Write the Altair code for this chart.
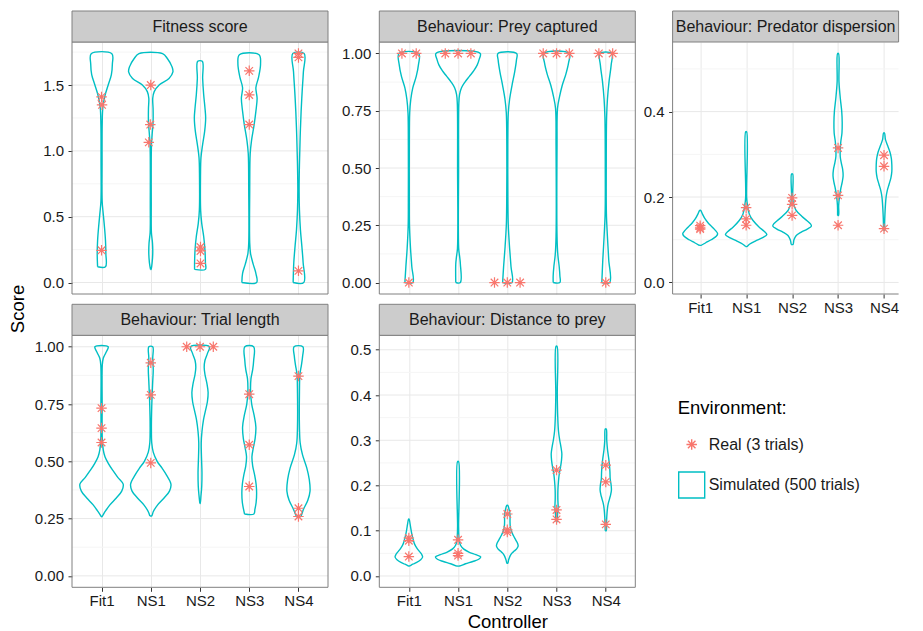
import json
import altair as alt
import pandas as pd

CONTROLLERS = ["Fit1", "NS1", "NS2", "NS3", "NS4"]
ENVIRONMENTS = ["Real (3 trials)", "Simulated (500 trials)"]
PANEL_TITLES = ["Fitness score", "Behaviour: Prey captured", "Behaviour: Predator dispersion",
                "Behaviour: Trial length", "Behaviour: Distance to prey"]

# Simulated-trial violin outlines: (score, half-width in category units)
FITNESS_VIOLINS = {
    "Fit1": [(1.738, .21), (1.66, .22), (1.58, .20), (1.50, .135), (1.42, .07), (1.33, .027), (1.2, .013),
             (0.9, .01), (0.62, .012), (0.52, .035), (0.42, .06), (0.32, .08), (0.22, .088), (0.12, .08)],
    "NS1": [(1.738, .24), (1.70, .34), (1.64, .43), (1.60, .45), (1.55, .37), (1.50, .17), (1.45, .07),
            (1.40, .04), (1.32, .047), (1.22, .047), (1.12, .027), (1.03, .013), (0.6, .01), (0.38, .013),
            (0.30, .035), (0.22, .04), (0.15, .027), (0.10, .005)],
    "NS2": [(1.68, .047), (1.55, .054), (1.43, .074), (1.33, .10), (1.25, .115), (1.15, .095), (1.05, .054),
            (0.95, .02), (0.8, .01), (0.55, .013), (0.45, .035), (0.35, .075), (0.25, .10), (0.15, .11),
            (0.10, .11)],
    "NS3": [(1.73, .20), (1.66, .23), (1.56, .19), (1.48, .135), (1.40, .16), (1.30, .135), (1.20, .10),
            (1.08, .047), (0.98, .02), (0.7, .01), (0.30, .01), (0.22, .027), (0.14, .08), (0.07, .135),
            (0.0, .15)],
    "NS4": [(1.74, .115), (1.60, .10), (1.45, .075), (1.30, .054), (1.10, .034), (0.90, .02), (0.70, .013),
            (0.55, .02), (0.40, .04), (0.28, .068), (0.15, .095), (0.0, .108)],
}
PREY_VIOLINS = {
    "Fit1": [(1.0, .20), (0.95, .195), (0.90, .15), (0.85, .08), (0.80, .04), (0.74, .017), (0.6, .01),
             (0.35, .01), (0.25, .013), (0.15, .034), (0.07, .06), (0.0, .08)],
    "NS1": [(1.0, .45), (0.975, .43), (0.95, .39), (0.925, .32), (0.90, .23), (0.875, .14), (0.85, .07),
            (0.82, .03), (0.78, .015), (0.5, .01), (0.15, .012), (0.11, .034), (0.08, .047), (0.0, .047)],
    "NS2": [(1.0, .19), (0.97, .185), (0.92, .15), (0.86, .095), (0.80, .047), (0.74, .02), (0.6, .01),
            (0.35, .012), (0.25, .02), (0.15, .047), (0.07, .075), (0.0, .095)],
    "NS3": [(1.0, .26), (0.96, .245), (0.91, .19), (0.86, .115), (0.81, .06), (0.76, .02), (0.6, .01),
            (0.2, .01), (0.12, .027), (0.07, .054), (0.03, .068), (0.0, .068)],
    "NS4": [(1.0, .12), (0.95, .11), (0.88, .068), (0.80, .034), (0.72, .017), (0.5, .01), (0.3, .013),
            (0.2, .034), (0.1, .06), (0.0, .08)],
}
PREDATOR_VIOLINS = {
    "Fit1": [(0.169, .01), (0.160, .05), (0.150, .10), (0.140, .17), (0.130, .26), (0.122, .33),
             (0.114, .38), (0.108, .35), (0.100, .24), (0.093, .12), (0.087, .02)],
    "NS1": [(0.353, .01), (0.20, .01), (0.18, .03), (0.16, .07), (0.145, .15), (0.13, .28), (0.12, .39),
            (0.112, .45), (0.105, .36), (0.097, .20), (0.09, .08), (0.084, .01)],
    "NS2": [(0.254, .012), (0.20, .012), (0.185, .03), (0.17, .08), (0.155, .21), (0.145, .32),
            (0.137, .40), (0.132, .42), (0.125, .33), (0.118, .20), (0.11, .09), (0.10, .04), (0.089, .02)],
    "NS3": [(0.536, .01), (0.47, .02), (0.43, .05), (0.40, .08), (0.375, .09), (0.35, .085), (0.33, .06),
            (0.31, .047), (0.295, .047), (0.28, .07), (0.265, .10), (0.25, .11), (0.235, .09), (0.22, .06),
            (0.20, .03), (0.18, .013), (0.157, .01)],
    "NS4": [(0.35, .01), (0.335, .03), (0.32, .08), (0.305, .13), (0.29, .16), (0.275, .17), (0.26, .17),
            (0.245, .15), (0.23, .11), (0.215, .07), (0.20, .045), (0.18, .03), (0.16, .02), (0.14, .013),
            (0.122, .01)],
}
TRIAL_VIOLINS = {
    "Fit1": [(1.0, .135), (0.975, .09), (0.95, .035), (0.92, .015), (0.75, .012), (0.60, .015), (0.55, .035),
             (0.52, .07), (0.49, .14), (0.46, .23), (0.43, .33), (0.40, .44), (0.37, .41), (0.34, .30),
             (0.31, .17), (0.28, .07), (0.258, .005)],
    "NS1": [(1.0, .04), (0.95, .04), (0.90, .05), (0.85, .04), (0.80, .03), (0.74, .02), (0.65, .013),
            (0.58, .02), (0.54, .05), (0.50, .13), (0.47, .23), (0.44, .32), (0.40, .41), (0.37, .38),
            (0.34, .27), (0.31, .14), (0.28, .05), (0.262, .02)],
    "NS2": [(1.0, .19), (0.97, .15), (0.94, .10), (0.91, .085), (0.88, .10), (0.84, .14), (0.80, .165),
            (0.76, .15), (0.72, .11), (0.68, .07), (0.63, .04), (0.58, .025), (0.52, .03), (0.45, .04),
            (0.39, .035), (0.35, .02), (0.316, .003)],
    "NS3": [(1.0, .09), (0.94, .09), (0.90, .07), (0.86, .035), (0.80, .028), (0.75, .05), (0.70, .10),
            (0.65, .135), (0.60, .12), (0.555, .08), (0.52, .055), (0.48, .07), (0.44, .11), (0.40, .14),
            (0.36, .15), (0.32, .14), (0.29, .115), (0.27, .095)],
    "NS4": [(1.0, .09), (0.96, .085), (0.92, .06), (0.88, .03), (0.80, .02), (0.65, .02), (0.58, .035),
            (0.53, .08), (0.47, .17), (0.42, .22), (0.37, .235), (0.33, .19), (0.29, .10), (0.258, .04)],
}
DISTANCE_VIOLINS = {
    "Fit1": [(0.126, .005), (0.115, .025), (0.105, .04), (0.093, .06), (0.082, .085), (0.071, .115),
             (0.062, .16), (0.055, .21), (0.048, .26), (0.042, .28), (0.036, .24), (0.030, .16),
             (0.026, .08), (0.022, .005)],
    "NS1": [(0.253, .01), (0.11, .01), (0.09, .015), (0.078, .025), (0.068, .05), (0.060, .11),
            (0.053, .22), (0.047, .36), (0.042, .46), (0.037, .42), (0.032, .30), (0.027, .15), (0.022, .03)],
    "NS2": [(0.156, .01), (0.145, .04), (0.135, .055), (0.12, .055), (0.11, .06), (0.10, .08), (0.09, .12),
            (0.08, .17), (0.072, .21), (0.066, .22), (0.06, .19), (0.055, .14), (0.05, .09), (0.045, .06),
            (0.04, .04), (0.035, .025), (0.028, .01)],
    "NS3": [(0.508, .01), (0.40, .015), (0.35, .025), (0.32, .04), (0.30, .065), (0.285, .09), (0.27, .108),
            (0.255, .10), (0.24, .08), (0.225, .055), (0.21, .04), (0.19, .028), (0.17, .027), (0.15, .033),
            (0.135, .02), (0.12, .01)],
    "NS4": [(0.325, .01), (0.30, .02), (0.28, .035), (0.26, .06), (0.245, .075), (0.23, .085), (0.215, .09),
            (0.20, .11), (0.19, .115), (0.18, .10), (0.17, .075), (0.16, .05), (0.15, .035), (0.13, .02),
            (0.115, .015), (0.10, .01)],
}

# Real-trial scores: (controller, score, horizontal jitter in category units)
FITNESS_REAL = [("Fit1", 1.41, 0), ("Fit1", 1.35, 0.01), ("Fit1", 0.245, 0),
                ("NS1", 1.50, 0), ("NS1", 1.20, -0.01), ("NS1", 1.065, -0.04),
                ("NS2", 0.27, 0.01), ("NS2", 0.24, 0.01), ("NS2", 0.145, 0.01),
                ("NS3", 1.608, 0), ("NS3", 1.425, 0), ("NS3", 1.20, 0),
                ("NS4", 1.74, 0), ("NS4", 1.71, 0), ("NS4", 0.089, 0)]
PREY_REAL = [("Fit1", 1.0, -0.14), ("Fit1", 1.0, 0.15), ("Fit1", 0.0, 0),
             ("NS1", 1.0, -0.26), ("NS1", 1.0, 0), ("NS1", 1.0, 0.26),
             ("NS2", 0.0, -0.26), ("NS2", 0.0, 0), ("NS2", 0.0, 0.26),
             ("NS3", 1.0, -0.27), ("NS3", 1.0, 0), ("NS3", 1.0, 0.26),
             ("NS4", 1.0, -0.14), ("NS4", 1.0, 0.14), ("NS4", 0.0, 0)]
PREDATOR_REAL = [("Fit1", 0.133, 0), ("Fit1", 0.128, 0), ("Fit1", 0.125, 0),
                 ("NS1", 0.175, 0), ("NS1", 0.149, 0), ("NS1", 0.134, 0),
                 ("NS2", 0.198, 0), ("NS2", 0.183, 0), ("NS2", 0.157, 0),
                 ("NS3", 0.315, 0), ("NS3", 0.204, 0), ("NS3", 0.134, 0),
                 ("NS4", 0.298, 0), ("NS4", 0.272, 0), ("NS4", 0.126, 0)]
TRIAL_REAL = [("Fit1", 0.732, 0), ("Fit1", 0.645, 0), ("Fit1", 0.582, 0),
              ("NS1", 0.93, 0), ("NS1", 0.79, 0), ("NS1", 0.493, 0),
              ("NS2", 1.0, -0.27), ("NS2", 1.0, 0), ("NS2", 1.0, 0.27),
              ("NS3", 0.793, 0), ("NS3", 0.572, 0), ("NS3", 0.39, 0),
              ("NS4", 0.872, 0), ("NS4", 0.295, 0), ("NS4", 0.259, 0)]
DISTANCE_REAL = [("Fit1", 0.084, 0), ("Fit1", 0.078, 0), ("Fit1", 0.043, 0),
                 ("NS1", 0.08, 0), ("NS1", 0.05, 0), ("NS1", 0.045, 0),
                 ("NS2", 0.137, 0), ("NS2", 0.102, 0), ("NS2", 0.097, 0),
                 ("NS3", 0.234, 0), ("NS3", 0.146, 0), ("NS3", 0.125, 0),
                 ("NS4", 0.245, 0), ("NS4", 0.208, 0), ("NS4", 0.114, 0)]

# y-axis domains, major and minor gridline values, label format
FITNESS_AXIS = ([-0.087, 1.827], [0, 0.5, 1.0, 1.5], [0.25, 0.75, 1.25, 1.75], ".1f")
PREY_AXIS = ([-0.05, 1.05], [0, 0.25, 0.5, 0.75, 1.0], [0.125, 0.375, 0.625, 0.875], ".2f")
PREDATOR_AXIS = ([-0.027, 0.563], [0, 0.2, 0.4], [0.1, 0.3, 0.5], ".1f")
TRIAL_AXIS = ([-0.05, 1.05], [0, 0.25, 0.5, 0.75, 1.0], [0.125, 0.375, 0.625, 0.875], ".2f")
DISTANCE_AXIS = ([-0.025, 0.532], [0, 0.1, 0.2, 0.3, 0.4, 0.5], [0.05, 0.15, 0.25, 0.35, 0.45], ".1f")

REAL_COLOR = "#F8766D"
SIM_COLOR = "#00BFC4"
ASTERISK = "M-1,0L1,0M0,-1L0,1M-0.72,-0.72L0.72,0.72M-0.72,0.72L0.72,-0.72"
FONT = "Liberation Sans"
W, H = 256, 252
EXTRA_GAP = 13.4      # the first column is followed by a wider gap than the second
CUT_WIDTH = 226       # the right-hand panel runs off the edge of the picture
CUT_RANGE = 239
STRIP = 31
BORDER = "#808080"
MAJOR_GRID = "#E8E8E8"
MINOR_GRID = "#F5F5F5"


def outline_rows(violins):
    rows = []
    for i, c in enumerate(CONTROLLERS):
        asc = sorted(violins[c])
        n = len(asc)
        for k, (s, w) in enumerate(asc):
            rows.append({"controller": c, "idx": i + 1, "score": s, "half": w, "side": -1, "ord": k})
        for k, (s, w) in enumerate(reversed(asc)):
            rows.append({"controller": c, "idx": i + 1, "score": s, "half": w, "side": 1, "ord": n + k})
        s0, w0 = asc[0]
        rows.append({"controller": c, "idx": i + 1, "score": s0, "half": w0, "side": -1, "ord": 2 * n})
    return pd.DataFrame(rows)


def panel(title, violins, real, axis_spec, x_labels=False, y_title=None, x_title=None,
          legend=False, view_width=W, x_range=W):
    domain, majors, minors, fmt = axis_spec
    vdf = outline_rows(violins)
    pdf = pd.DataFrame([{"controller": c, "idx": CONTROLLERS.index(c) + 1, "score": s, "jit": j,
                         "env": ENVIRONMENTS[0]} for c, s, j in real])
    vw = min(view_width, W)

    minor_test = f"indexof({json.dumps(minors)}, datum.value) >= 0"
    yaxis_kw = dict(
        values=sorted(majors + minors),
        labelExpr=f"{minor_test} ? '' : format(datum.value, '{fmt}')",
        tickOpacity={"condition": {"test": minor_test, "value": 0}, "value": 1},
        grid=False, labelOverlap=False, labelFlush=False,
    )
    if y_title:
        yaxis_kw.update(title=y_title, titleX=-54.75, titleY=H + 14.5, titleAngle=270,
                        titleAlign="center", titleBaseline="middle", titleFontSize=18.5,
                        titleFontWeight="normal", titleColor="#000000")
    else:
        yaxis_kw.update(title=None)
    yaxis = alt.Axis(**yaxis_kw)

    xaxis_kw = dict(values=[1, 2, 3, 4, 5], labelExpr=f"{json.dumps(CONTROLLERS)}[datum.value - 1]",
                    labels=x_labels, ticks=x_labels, gridColor=MAJOR_GRID, labelFlush=False,
                    labelOverlap=False)
    if x_title:
        xaxis_kw.update(title=x_title, titleFontSize=18.5, titleFontWeight="normal",
                        titlePadding=3.7, titleColor="#000000")
    else:
        xaxis_kw.update(title=None)
    xaxis = alt.Axis(**xaxis_kw)

    xscale = alt.Scale(domain=[0.4, 5.6], nice=False, zero=False, range=[0, x_range])
    yscale = alt.Scale(domain=domain, nice=False, zero=False)

    gdf = pd.DataFrame({"gy": majors + minors, "kind": ["major"] * len(majors) + ["minor"] * len(minors)})
    grid_minor = alt.Chart(gdf).transform_filter("datum.kind == 'minor'").mark_rule(
        color=MINOR_GRID, strokeWidth=1).encode(
        y=alt.Y("gy:Q", scale=yscale, axis=yaxis), x=alt.value(0), x2=alt.value(vw))
    grid_major = alt.Chart(gdf).transform_filter("datum.kind == 'major'").mark_rule(
        color=MAJOR_GRID, strokeWidth=1).encode(
        y=alt.Y("gy:Q", scale=yscale), x=alt.value(0), x2=alt.value(vw))

    violin = alt.Chart(vdf).transform_calculate(
        xv="datum.idx + datum.side * datum.half"
    ).mark_line(interpolate="catmull-rom", color=SIM_COLOR, strokeWidth=1.4).encode(
        x=alt.X("xv:Q", scale=xscale, axis=xaxis),
        y=alt.Y("score:Q", scale=yscale),
        detail="controller:N",
        order=alt.Order("ord:Q"),
    )

    pts_base = alt.Chart(pdf).transform_calculate(xpos="datum.idx + datum.jit")
    if legend:
        pts = pts_base.mark_point(filled=False, strokeWidth=1.2, opacity=1).encode(
            x=alt.X("xpos:Q", scale=xscale),
            y=alt.Y("score:Q", scale=yscale),
            color=alt.Color("env:N", scale=alt.Scale(domain=ENVIRONMENTS, range=[REAL_COLOR, SIM_COLOR]),
                            title="Environment:",
                            legend=alt.Legend(orient="none", legendX=605.7, legendY=356.5,
                                              titleFontSize=18.5, titleFontWeight="normal",
                                              titleColor="#000000", titlePadding=19.5,
                                              labelFontSize=16, labelColor="#1a1a1a",
                                              rowPadding=15.5, symbolStrokeWidth=1.4,
                                              labelOffset=3)),
            shape=alt.Shape("env:N", scale=alt.Scale(domain=ENVIRONMENTS, range=[ASTERISK, "square"]),
                            title="Environment:"),
            size=alt.Size("env:N", scale=alt.Scale(domain=ENVIRONMENTS, range=[110, 676]),
                          title="Environment:"),
        )
    else:
        pts = pts_base.mark_point(filled=False, strokeWidth=1.2, opacity=1, shape=ASTERISK,
                                  size=110, color=REAL_COLOR).encode(
            x=alt.X("xpos:Q", scale=xscale),
            y=alt.Y("score:Q", scale=yscale),
        )

    tdf = pd.DataFrame({"label": [title]})
    if vw >= W:
        border = [alt.Chart(tdf).mark_rect(fill="white", fillOpacity=0, stroke=BORDER, strokeWidth=1).encode(
            x=alt.value(0), x2=alt.value(W), y=alt.value(0), y2=alt.value(H))]
    else:
        border = [
            alt.Chart(tdf).mark_rule(color=BORDER, strokeWidth=1).encode(
                x=alt.value(0), y=alt.value(0), y2=alt.value(H)),
            alt.Chart(tdf).mark_rule(color=BORDER, strokeWidth=1).encode(
                x=alt.value(0), x2=alt.value(vw), y=alt.value(H)),
        ]
    strip = alt.Chart(tdf).mark_rect(fill="#CCCCCC", stroke=BORDER, strokeWidth=1).encode(
        x=alt.value(0), x2=alt.value(vw), y=alt.value(-STRIP), y2=alt.value(0))
    strip_text = alt.Chart(tdf).mark_text(font=FONT, fontSize=16, color="#1a1a1a",
                                          baseline="middle", align="center").encode(
        x=alt.value(vw / 2), y=alt.value(-STRIP / 2 + 0.5), text="label:N")

    return alt.layer(grid_minor, grid_major, violin, pts, *border, strip, strip_text).properties(
        width=view_width, height=H)


p1 = panel(PANEL_TITLES[0], FITNESS_VIOLINS, FITNESS_REAL, FITNESS_AXIS, y_title="Score",
           view_width=W + EXTRA_GAP)
p2 = panel(PANEL_TITLES[1], PREY_VIOLINS, PREY_REAL, PREY_AXIS)
p3 = panel(PANEL_TITLES[2], PREDATOR_VIOLINS, PREDATOR_REAL, PREDATOR_AXIS, x_labels=True,
           view_width=CUT_WIDTH, x_range=CUT_RANGE)
p4 = panel(PANEL_TITLES[3], TRIAL_VIOLINS, TRIAL_REAL, TRIAL_AXIS, x_labels=True,
           view_width=W + EXTRA_GAP)
p5 = panel(PANEL_TITLES[4], DISTANCE_VIOLINS, DISTANCE_REAL, DISTANCE_AXIS, x_labels=True,
           x_title="Controller", legend=True)

chart = alt.concat(p1, p2, p3, p4, p5, columns=3, spacing={"row": 41.3, "column": 37.3},
                   bounds="flush").properties(
    padding={"left": 0, "top": 2, "right": 0, "bottom": 4}
).configure(font=FONT).configure_view(
    strokeWidth=0
).configure_axis(
    labelFont=FONT, titleFont=FONT, labelFontSize=15, labelColor="#1a1a1a",
    tickColor="#333333", tickSize=4, tickWidth=1, domain=False, gridWidth=1
).configure_axisX(
    labelPadding=2
).configure_axisY(
    labelPadding=4.5
).configure_legend(
    labelFont=FONT, titleFont=FONT
)

chart.save("out.html", embed_options={"renderer": "svg", "actions": False})
